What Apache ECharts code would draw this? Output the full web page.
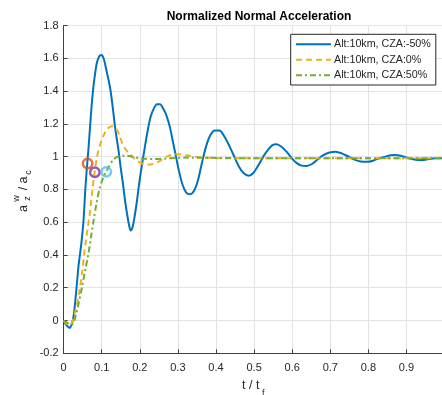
<!DOCTYPE html>
<html>
<head>
<meta charset="utf-8">
<script src="https://cdn.jsdelivr.net/npm/echarts@6/dist/echarts.min.js"></script>
<style>html,body{margin:0;padding:0;background:#fff}#c{width:442px;height:395px}</style>
</head>
<body>
<div id="c"></div>
<script>
// ---- data ----
const seriesNames = ['Alt:10km, CZA:-50%', 'Alt:10km, CZA:0%', 'Alt:10km, CZA:50%'];
const xTicks = [0, 0.1, 0.2, 0.3, 0.4, 0.5, 0.6, 0.7, 0.8, 0.9, 1];
const yTicks = [-0.2, 0, 0.2, 0.4, 0.6, 0.8, 1, 1.2, 1.4, 1.6, 1.8];

const czaMinus50 = [
  [0,0],[0.008,-0.03],[0.016,-0.045],[0.021,-0.025],[0.025,0.01],[0.029,0.08],[0.034,0.2],[0.039,0.33],
  [0.043,0.405],[0.047,0.48],[0.052,0.6],[0.057,0.8],[0.061,0.93],[0.065,1.04],[0.070,1.2],[0.075,1.35],
  [0.080,1.46],[0.087,1.57],[0.093,1.61],[0.099,1.62],[0.105,1.6],[0.112,1.53],[0.122,1.42],[0.129,1.3],
  [0.135,1.18],[0.144,1.04],[0.150,0.93],[0.156,0.83],[0.162,0.72],[0.168,0.63],[0.172,0.58],[0.176,0.55],
  [0.181,0.57],[0.186,0.63],[0.192,0.72],[0.198,0.83],[0.205,0.94],[0.212,1.04],[0.220,1.15],[0.228,1.24],
  [0.236,1.29],[0.245,1.32],[0.253,1.32],[0.262,1.29],[0.270,1.25],[0.279,1.18],[0.287,1.09],[0.295,1.0],
  [0.303,0.91],[0.312,0.83],[0.322,0.78],[0.332,0.77],[0.342,0.79],[0.352,0.85],[0.360,0.93],[0.367,1.0],
  [0.375,1.07],[0.385,1.13],[0.397,1.16],[0.409,1.16],[0.420,1.13],[0.432,1.08],[0.442,1.03],[0.450,0.99],
  [0.460,0.94],[0.472,0.9],[0.486,0.884],[0.498,0.9],[0.512,0.95],[0.524,1.0],[0.536,1.04],[0.548,1.07],
  [0.559,1.076],[0.572,1.06],[0.585,1.03],[0.599,0.99],[0.612,0.96],[0.625,0.945],[0.638,0.943],[0.652,0.955],
  [0.668,0.985],[0.683,1.01],[0.698,1.025],[0.714,1.03],[0.730,1.02],[0.748,1.0],[0.765,0.98],[0.780,0.97],
  [0.796,0.968],[0.812,0.975],[0.828,0.99],[0.845,1.0],[0.858,1.008],[0.870,1.01],[0.885,1.005],[0.900,0.995],
  [0.915,0.985],[0.930,0.98],[0.945,0.98],[0.960,0.985],[0.975,0.99],[1.0,0.99]
];
const cza0 = [
  [0,0],[0.008,-0.02],[0.016,-0.03],[0.024,0.0],[0.030,0.05],[0.037,0.12],[0.043,0.2],[0.049,0.3],
  [0.054,0.405],[0.058,0.48],[0.063,0.56],[0.068,0.64],[0.075,0.78],[0.081,0.9],[0.087,0.99],[0.094,1.06],
  [0.105,1.13],[0.115,1.17],[0.127,1.185],[0.138,1.17],[0.148,1.12],[0.158,1.06],[0.172,1.02],[0.19,0.98],
  [0.21,0.955],[0.227,0.952],[0.25,0.97],[0.27,1.0],[0.297,1.015],[0.33,1.005],[0.36,0.994],[0.45,0.99],
  [0.6,0.99],[0.8,0.99],[1.0,0.99]
];
const cza50 = [
  [0,0],[0.01,-0.015],[0.021,-0.026],[0.028,0.0],[0.034,0.05],[0.04,0.11],[0.048,0.2],[0.056,0.3],
  [0.065,0.405],[0.072,0.51],[0.078,0.6],[0.086,0.71],[0.094,0.8],[0.102,0.86],[0.111,0.905],[0.12,0.945],
  [0.13,0.98],[0.14,0.998],[0.15,1.005],[0.16,1.006],[0.18,1.0],[0.2,0.99],[0.24,0.985],[0.28,0.99],
  [0.32,0.994],[0.5,0.99],[0.7,0.99],[1.0,0.99]
];
const markerPoints = [[0.063,0.958],[0.082,0.905],[0.112,0.907]];
const markerColors = ['#D95319','#7E2F8E','#4DBEEE'];

// ---- chart ----
const chart = echarts.init(document.getElementById('c'), null, {renderer:'canvas'});
const FONT = 'Liberation Sans, Arial, sans-serif';
const TXT = '#262626';
const grid = {left:63.6, top:25.5, width:381, height:327.8, containLabel:false, outerBoundsMode:'none'};

const lineSeries = [
  {name:seriesNames[0], data:czaMinus50, color:'#0072BD', lineStyle:{width:2, type:'solid'}},
  {name:seriesNames[1], data:cza0, color:'#EDB120', lineStyle:{width:2, type:[6,4]}},
  {name:seriesNames[2], data:cza50, color:'#77AC30', lineStyle:{width:2, type:[6,3,2,3]}}
].map(s => ({
  type:'line', name:s.name, data:s.data, showSymbol:false, symbol:'none', smooth:0.3,
  itemStyle:{color:s.color}, lineStyle:Object.assign({color:s.color}, s.lineStyle), z:2, animation:false
}));

const markerSeries = markerPoints.map((p,i) => ({
  type:'scatter', name:'m'+i, data:[p], symbol:'circle', symbolSize:9.5,
  itemStyle:{color:'rgba(0,0,0,0)', borderColor:markerColors[i], borderWidth:2.4}, z:5, animation:false
}));

chart.setOption({
  animation:false,
  backgroundColor:'#fff',
  title:{text:'Normalized Normal Acceleration', left:254, top:6, textAlign:'center',
    textStyle:{fontFamily:FONT, fontSize:12, fontWeight:'bold', color:'#000'}},
  grid:grid,
  legend:{
    data:seriesNames, orient:'vertical', left:290.7, top:34.3,
    padding:[4.5,5,4.2,4.3], itemWidth:35, itemHeight:10, itemGap:4.5,
    backgroundColor:'#fff', borderColor:'#262626', borderWidth:1, borderRadius:0,
    itemStyle:{opacity:0},
    textStyle:{fontFamily:FONT, fontSize:10.7, color:TXT, lineHeight:10, padding:[0,0,0,-2]}
  },
  xAxis:{
    type:'value', min:0, max:1, interval:0.1,
    axisLine:{show:true, onZero:false, lineStyle:{color:'#404040', width:1}},
    axisTick:{show:true, inside:true, length:4, lineStyle:{color:'#404040'}},
    axisLabel:{fontFamily:FONT, fontSize:11, color:TXT, margin:9, formatter:v=>String(+v.toFixed(1))},
    splitLine:{show:true, lineStyle:{color:'#e3e3e3', width:1}}
  },
  yAxis:{
    type:'value', min:-0.2, max:1.8, interval:0.2,
    axisLine:{show:true, onZero:false, lineStyle:{color:'#404040', width:1}},
    axisTick:{show:true, inside:true, length:4, lineStyle:{color:'#404040'}},
    axisLabel:{fontFamily:FONT, fontSize:11, color:TXT, margin:5, formatter:v=>String(+v.toFixed(1))},
    splitLine:{show:true, lineStyle:{color:'#e3e3e3', width:1}}
  },
  graphic:[
    {type:'group', x:23.5, y:191, rotation:Math.PI/2, silent:true, children:[
      {type:'text', x:-17.5, y:0, style:{text:'a', fontFamily:FONT, fontSize:12.5, fill:TXT, align:'center', verticalAlign:'middle'}},
      {type:'text', x:-7.5, y:-7, style:{text:'w', fontFamily:FONT, fontSize:9, fill:TXT, align:'center', verticalAlign:'middle'}},
      {type:'text', x:-7.5, y:4.5, style:{text:'z', fontFamily:FONT, fontSize:9, fill:TXT, align:'center', verticalAlign:'middle'}},
      {type:'text', x:2.5, y:0, style:{text:'/', fontFamily:FONT, fontSize:12.5, fill:TXT, align:'center', verticalAlign:'middle'}},
      {type:'text', x:11, y:0, style:{text:'a', fontFamily:FONT, fontSize:12.5, fill:TXT, align:'center', verticalAlign:'middle'}},
      {type:'text', x:18.5, y:5.5, style:{text:'c', fontFamily:FONT, fontSize:9, fill:TXT, align:'center', verticalAlign:'middle'}}
    ]},
    {type:'text', left:242, top:379, silent:true,
      style:{text:'t / t', fontFamily:FONT, fontSize:12.5, fill:TXT}},
    {type:'text', left:262, top:389, silent:true,
      style:{text:'f', fontFamily:FONT, fontSize:9, fill:TXT}}
  ],
  series:[...lineSeries, ...markerSeries]
});
</script>
</body>
</html>
